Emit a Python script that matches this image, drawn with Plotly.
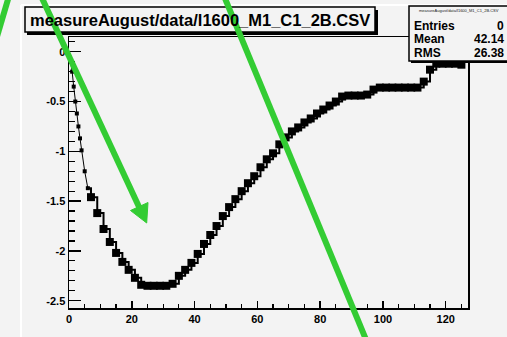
import plotly.graph_objects as go

# ---- data ----
x_start = [0.5, 1.0, 1.5, 2.0, 2.5, 3.0, 3.5, 4.0, 5.0, 6.0]
y_start = [-0.10, -0.20, -0.35, -0.50, -0.62, -0.75, -0.87, -0.99, -1.20, -1.37]

x_bins = [7, 9, 11, 13, 15, 17, 19, 21, 23, 25, 27, 29, 31, 33, 35, 37, 39, 41, 43, 45,
          47, 49, 51, 53, 55, 57, 59, 61, 63, 65, 67, 69, 71, 73, 75, 77, 79, 81, 83, 85,
          87, 89, 91, 93, 95, 97, 99, 101, 103, 105, 107, 109, 111, 113, 115, 117, 119,
          121, 123, 125]
y_bins = [-1.46, -1.62, -1.78, -1.91, -2.02, -2.11, -2.19, -2.27, -2.34, -2.35, -2.35,
          -2.35, -2.35, -2.33, -2.25, -2.19, -2.12, -2.03, -1.93, -1.84, -1.75, -1.65,
          -1.56, -1.48, -1.40, -1.32, -1.25, -1.16, -1.08, -1.02, -0.93, -0.86, -0.80,
          -0.76, -0.71, -0.67, -0.62, -0.58, -0.54, -0.50, -0.45, -0.44, -0.44, -0.44,
          -0.43, -0.38, -0.36, -0.36, -0.36, -0.36, -0.36, -0.36, -0.36, -0.30, -0.18,
          -0.12, -0.12, -0.12, -0.12, -0.13]

title_text = "measureAugust/data/l1600_M1_C1_2B.CSV"
stat_names = ["Entries", "Mean", "RMS"]
stat_values = ["0", "42.14", "26.38"]

x_ticks = [0, 20, 40, 60, 80, 100, 120]
y_ticks = [0, -0.5, -1, -1.5, -2, -2.5]

# ---- layout geometry (pixels) ----
W, H = 507, 337
L, R, T, B = 69, 39, 37, 29
pw, ph = W - L - R, H - T - B


def px(xp):
    return (xp - L) / pw


def py(yp):
    return (H - B - yp) / ph


BG = "#f3f3f3"
GREEN = "#33cc33"
FONT = "Liberation Sans"

fig = go.Figure()
fig.add_trace(go.Scatter(x=x_start, y=y_start, mode="lines+markers",
                         line=dict(color="black", width=1),
                         marker=dict(symbol="square", size=4, color="black"),
                         showlegend=False, cliponaxis=False, hoverinfo="skip"))
fig.add_trace(go.Scatter(x=x_start[-1:] + x_bins, y=y_start[-1:] + y_bins, mode="lines",
                         line=dict(color="black", width=2, shape="hv"),
                         showlegend=False, cliponaxis=False, hoverinfo="skip"))
fig.add_trace(go.Scatter(x=x_bins, y=y_bins, mode="markers",
                         marker=dict(symbol="square", size=8, color="black"),
                         showlegend=False, cliponaxis=False, hoverinfo="skip"))

shapes = []
# canvas white border lines
shapes.append(dict(type="line", xref="paper", yref="paper", x0=px(21), x1=px(21), y0=py(5), y1=py(H + 5),
                   line=dict(color="white", width=2)))
shapes.append(dict(type="line", xref="paper", yref="paper", x0=px(21), x1=px(W + 5), y0=py(5), y1=py(5),
                   line=dict(color="white", width=2)))
# title box with shadow
shapes.append(dict(type="rect", xref="paper", yref="paper", x0=px(27), x1=px(378), y0=py(10), y1=py(35),
                   fillcolor="black", line=dict(width=0)))
shapes.append(dict(type="rect", xref="paper", yref="paper", x0=px(25), x1=px(375), y0=py(7), y1=py(32),
                   fillcolor=BG, line=dict(color="black", width=1.5)))
# stats box with shadow
shapes.append(dict(type="rect", xref="paper", yref="paper", x0=px(411), x1=px(W + 10), y0=py(9), y1=py(63),
                   fillcolor="black", line=dict(width=0)))
shapes.append(dict(type="rect", xref="paper", yref="paper", x0=px(409), x1=px(W + 10), y0=py(6), y1=py(61),
                   fillcolor=BG, line=dict(color="black", width=1.5)))
# green overlay strokes
shapes.append(dict(type="line", xref="paper", yref="paper", x0=px(9), y0=py(-4), x1=px(-4), y1=py(40),
                   line=dict(color=GREEN, width=6)))
shapes.append(dict(type="line", xref="paper", yref="paper", x0=px(41), y0=py(-4), x1=px(140), y1=py(209),
                   line=dict(color=GREEN, width=6)))
shapes.append(dict(type="path", xref="paper", yref="paper",
                   path=f"M {px(146.7)} {py(223)} L {px(148)} {py(202.5)} L {px(130.5)} {py(210.5)} Z",
                   fillcolor=GREEN, line=dict(color=GREEN, width=1)))
shapes.append(dict(type="line", xref="paper", yref="paper", x0=px(224), y0=py(-4), x1=px(367), y1=py(342),
                   line=dict(color=GREEN, width=6)))

annotations = [
    dict(xref="paper", yref="paper", x=px(28), y=py(19.5), text=f"<b>{title_text}</b>",
         showarrow=False, xanchor="left", yanchor="middle", font=dict(family=FONT, size=16.5, color="black")),
    dict(xref="paper", yref="paper", x=px(459), y=py(11), text=title_text,
         showarrow=False, xanchor="center", yanchor="middle", font=dict(family=FONT, size=4, color="#222222")),
]
for i, (n, v) in enumerate(zip(stat_names, stat_values)):
    yy = py(25.5 + 13.5 * i)
    annotations.append(dict(xref="paper", yref="paper", x=px(412), y=yy, text=f"<b>{n}</b>", showarrow=False,
                            xanchor="left", yanchor="middle", font=dict(family=FONT, size=12, color="black")))
    annotations.append(dict(xref="paper", yref="paper", x=px(506), y=yy, text=f"<b>{v}</b>", showarrow=False,
                            xanchor="right", yanchor="middle", font=dict(family=FONT, size=12, color="black")))

for s in shapes:
    s["layer"] = "above"

tickfont = dict(family=FONT, size=11, color="black", weight="bold")
fig.update_layout(
    width=W, height=H, margin=dict(l=L, r=R, t=T, b=B, pad=0),
    paper_bgcolor=BG, plot_bgcolor=BG, hovermode=False,
    shapes=shapes, annotations=annotations, showlegend=False,
    xaxis=dict(range=[0, 127.1], showgrid=False, zeroline=False, showline=True, mirror=True,
               linecolor="black", linewidth=1.5, ticks="inside", ticklen=7, tickwidth=1.5, tickcolor="black",
               tickvals=x_ticks, ticktext=[str(t) for t in x_ticks], tickfont=tickfont,
               minor=dict(ticks="inside", ticklen=4, tickwidth=1.2, tickcolor="black", dtick=5, tick0=0)),
    yaxis=dict(range=[-2.573, 0.148], showgrid=False, zeroline=False, showline=True, mirror=True,
               linecolor="black", linewidth=1.5, ticks="inside", ticklen=12, tickwidth=1.5, tickcolor="black",
               tickvals=y_ticks, ticktext=["0", "-0.5", "-1", "-1.5", "-2", "-2.5"], tickfont=tickfont,
               minor=dict(ticks="inside", ticklen=6, tickwidth=1.2, tickcolor="black", dtick=0.1, tick0=0)),
)

fig.write_html("out.html", config={"displayModeBar": False, "staticPlot": True},
               post_script="document.body.style.margin='0';document.body.style.background='#f3f3f3';")
